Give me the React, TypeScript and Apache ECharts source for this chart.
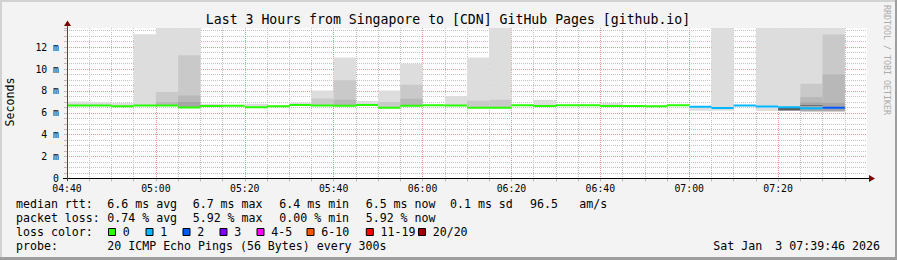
import React, { useEffect, useRef } from "react";
import * as echarts from "echarts";

// ---- data ----
const slotStarts = [
  "04:40", "04:45", "04:50", "04:55", "05:00", "05:05", "05:10", "05:15", "05:20", "05:25",
  "05:30", "05:35", "05:40", "05:45", "05:50", "05:55", "06:00", "06:05", "06:10", "06:15",
  "06:20", "06:25", "06:30", "06:35", "06:40", "06:45", "06:50", "06:55", "07:00", "07:05",
  "07:10", "07:15", "07:20", "07:25", "07:30",
];
// median rtt (ms)
const medianRtt = [
  6.67, 6.67, 6.6, 6.67, 6.67, 6.49, 6.62, 6.65, 6.51, 6.6,
  6.72, 6.68, 6.65, 6.72, 6.46, 6.65, 6.7, 6.68, 6.46, 6.46,
  6.7, 6.62, 6.7, 6.7, 6.62, 6.62, 6.6, 6.7, 6.56, 6.44,
  6.66, 6.58, 6.52, 6.42, 6.46,
];
// lost pings out of 20
const lostPings = [
  0, 0, 0, 0, 0, 0, 0, 0, 0, 0,
  0, 0, 0, 0, 0, 0, 0, 0, 0, 0,
  0, 0, 0, 0, 0, 0, 0, 0, 1, 1,
  1, 1, 1, 1, 2,
];
// smoke bounds (ms); null = none / same as median
const smokeLow: (number | null)[] = [
  null, null, null, null, null, null, null, null, null, null,
  null, null, null, null, null, null, null, null, null, null,
  null, null, null, null, null, null, null, null, 6.2, 6.2,
  null, 6.17, 6.2, 6.15, 6.15,
];
const smokeHigh: (number | null)[] = [
  7.04, 6.98, 6.89, 13.18, 13.75, 13.75, 6.83, null, 6.83, null,
  6.95, 8.05, 11.05, 7.07, 8.05, 10.49, null, 7.53, 11.05, 13.75,
  null, 7.19, null, null, 6.89, null, null, null, 6.62, 13.75,
  null, 13.75, 13.75, 13.75, 13.75,
];
const smokeMid: (number | null)[] = [
  null, null, null, null, 7.9, 11.25, null, null, null, null,
  null, 7.31, 8.97, null, 6.98, 8.57, null, null, 7.1, 7.19,
  null, null, null, null, null, null, null, null, null, null,
  null, null, null, 8.66, 13.15,
];
const smokeInner: (number | null)[] = [
  null, null, null, null, 7.0, 7.59, null, null, null, null,
  null, null, 7.2, null, null, 7.29, null, null, null, null,
  null, null, null, null, null, null, null, null, null, null,
  null, null, null, 7.44, 9.5,
];
const smokeCore: (number | null)[] = [
  null, null, null, null, null, 6.98, null, null, null, null,
  null, null, null, null, null, null, null, null, null, null,
  null, null, null, null, null, null, null, null, null, null,
  null, null, null, 6.95, 6.9,
];
// darkest band near the median [low, high]
const deepBand: ([number, number] | null)[] = [
  null, null, null, null, null, null, null, null, null, null,
  null, null, null, null, null, null, null, null, null, null,
  null, null, null, null, null, null, null, null, null, null,
  null, null, [6.22, 6.46], [6.63, 6.7], null,
];

const xTickLabels = ["04:40", "05:00", "05:20", "05:40", "06:00", "06:20", "06:40", "07:00", "07:20"];
const yTickLabels = ["0", "2 m", "4 m", "6 m", "8 m", "10 m", "12 m"];

const lossLabels = ["0", "1", "2", "3", "4-5", "6-10", "11-19", "20/20"];
const lossColors = ["#26ff00", "#00b8ff", "#0059ff", "#7e00ff", "#ff00ff", "#ff5500", "#ff0000", "#a10000"];

const statsRtt = ["6.6 ms avg", "6.7 ms max", "6.4 ms min", "6.5 ms now", "0.1 ms sd", "96.5", "am/s"];
const statsLoss = ["0.74 % avg", "5.92 % max", "0.00 % min", "5.92 % now"];
const probeText = "20 ICMP Echo Pings (56 Bytes) every 300s";
const titleText = "Last 3 Hours from Singapore to [CDN] GitHub Pages [github.io]";
const dateText = ["Sat Jan", "3 07:39:46 2026"];

// ---- styles / layout ----
const MONO = "'DejaVu Sans Mono', monospace";
const STEP = 5;
const Y_MAX = 13.75;
const smokeShades = ["#dddddd", "#c9c9c9", "#b8b8b8", "#a6a6a6", "#5c5c5c"];
const MAJOR = "#e49494";
const MINOR = "#c2c2c2";

const toMin = (s: string) => {
  const [h, m] = s.split(":").map(Number);
  return h * 60 + m - (4 * 60 + 40);
};

function lossBucket(n: number) {
  if (n <= 3) return n;
  if (n <= 5) return 4;
  if (n <= 10) return 5;
  if (n <= 19) return 6;
  return 7;
}

function buildSmoke() {
  const items: number[][] = [];
  const layers: [(number | null)[], number][] = [
    [smokeHigh, 0],
    [smokeMid, 1],
    [smokeInner, 2],
    [smokeCore, 3],
  ];
  for (const [arr, shade] of layers) {
    slotStarts.forEach((s, i) => {
      const hi = arr[i];
      if (hi == null) return;
      const t0 = toMin(s);
      const lo = smokeLow[i] ?? medianRtt[i];
      items.push([t0, t0 + STEP, Math.min(lo, hi), hi, shade]);
    });
  }
  slotStarts.forEach((s, i) => {
    const b = deepBand[i];
    if (!b) return;
    const t0 = toMin(s);
    items.push([t0, t0 + STEP, b[0], b[1], 4]);
  });
  return items;
}

function buildMedian() {
  return slotStarts.map((s, i) => {
    const t0 = toMin(s);
    return [t0, t0 + STEP, medianRtt[i], lossBucket(lostPings[i])];
  });
}

function renderRect(_p: any, api: any) {
  const a = api.coord([api.value(0), api.value(3)]);
  const b = api.coord([api.value(1), api.value(2)]);
  return {
    type: "rect",
    shape: { x: a[0], y: a[1], width: b[0] - a[0], height: b[1] - a[1] },
    style: { fill: smokeShades[api.value(4)] },
  };
}

function renderMedian(_p: any, api: any) {
  const a = api.coord([api.value(0), api.value(2)]);
  const b = api.coord([api.value(1), api.value(2)]);
  return {
    type: "rect",
    shape: { x: a[0], y: a[1] - 1, width: b[0] - a[0], height: 2 },
    style: { fill: lossColors[api.value(3)] },
  };
}

function txt(text: string, x: number, y: number, opts: any = {}) {
  return {
    type: "text",
    x,
    y,
    z: 100,
    rotation: opts.rotation ?? 0,
    style: {
      text,
      fill: opts.fill ?? "#000",
      fontFamily: MONO,
      fontSize: opts.fontSize ?? 11.6,
      textAlign: opts.align ?? "left",
      align: opts.align ?? "left",
      textVerticalAlign: "middle",
      verticalAlign: "middle",
    },
  };
}

function buildGraphic() {
  const els: any[] = [];
  // outer frame
  els.push({ type: "rect", z: 100, shape: { x: 0, y: 0, width: 897, height: 2 }, style: { fill: "#d2d2d2" } });
  els.push({ type: "rect", z: 100, shape: { x: 0, y: 0, width: 2, height: 260 }, style: { fill: "#d2d2d2" } });
  els.push({ type: "rect", z: 100, shape: { x: 0, y: 257, width: 897, height: 3 }, style: { fill: "#9e9e9e" } });
  els.push({ type: "rect", z: 100, shape: { x: 895, y: 0, width: 2, height: 260 }, style: { fill: "#9e9e9e" } });
  // axes
  els.push({ type: "line", z: 100, shape: { x1: 63, y1: 178.5, x2: 870, y2: 178.5 }, style: { stroke: "#000", lineWidth: 1 } });
  els.push({ type: "line", z: 100, shape: { x1: 67.5, y1: 181, x2: 67.5, y2: 25 }, style: { stroke: "#7a3030", lineWidth: 1 } });
  els.push({ type: "polygon", z: 101, shape: { points: [[64, 26], [71, 26], [67.5, 20.5]] }, style: { fill: "#7f0000" } });
  els.push({ type: "polygon", z: 101, shape: { points: [[869, 175], [869, 182], [875, 178.5]] }, style: { fill: "#7f0000" } });
  // title & side labels
  els.push(txt(titleText, 448, 19.5, { align: "center", fontSize: 13.2 }));
  els.push(txt("Seconds", 10, 102, { align: "center", rotation: Math.PI / 2 }));
  els.push(txt("RRDTOOL / TOBI OETIKER", 887, 60, { align: "center", rotation: -Math.PI / 2, fontSize: 8.3, fill: "#ababab" }));
  // legend rows
  const colX = [107.3, 192.7, 279.3, 365.7, 450, 530, 579.3];
  const r1 = 204.3, r2 = 218.3, r3 = 232, r4 = 246;
  els.push(txt("median rtt:", 16, r1));
  statsRtt.forEach((s, i) => els.push(txt(s, colX[i], r1)));
  els.push(txt("packet loss:", 16, r2));
  statsLoss.forEach((s, i) => els.push(txt(s, colX[i], r2)));
  els.push(txt("loss color:", 16, r3));
  const boxX = [108.5, 146, 183, 220, 257, 307, 366.3, 418.5];
  lossLabels.forEach((l, i) => {
    els.push({
      type: "rect",
      z: 100,
      shape: { x: boxX[i], y: 228.5, width: 7, height: 7 },
      style: { fill: lossColors[i], stroke: "#000", lineWidth: 1 },
    });
    els.push(txt(l, boxX[i] + 14.2, r3));
  });
  els.push(txt("probe:", 16, r4));
  els.push(txt(probeText, 107.3, r4));
  els.push(txt(dateText[0], 713.3, r4));
  els.push(txt(dateText[1], 880, r4, { align: "right" }));
  return els;
}

export default function App() {
  const ref = useRef<HTMLDivElement>(null);
  useEffect(() => {
    document.body.style.margin = "0";
    const chart = echarts.init(ref.current!, null, { renderer: "svg" });
    const option: any = {
      animation: false,
      backgroundColor: "#f3f3f3",
      grid: {
        left: 67,
        top: 28,
        width: 800,
        height: 150.5,
        show: true,
        backgroundColor: "#ffffff",
        borderWidth: 0,
        containLabel: false,
        outerBoundsMode: "none",
      },
      xAxis: {
        type: "value",
        min: 0,
        max: 180,
        interval: 5,
        axisLine: { show: false },
        axisTick: { show: true, length: 3, lineStyle: { color: "#bdbdbd" } },
        axisLabel: {
          margin: 5,
          fontFamily: MONO,
          fontSize: 9.8,
          color: "#000",
          showMaxLabel: false,
          formatter: (v: number) => (v % 20 === 0 && v / 20 < xTickLabels.length ? xTickLabels[v / 20] : ""),
        },
        splitLine: {
          show: true,
          showMaxLine: false,
          lineStyle: { color: [MAJOR, MINOR, MINOR, MINOR], type: [1, 1], width: 1 },
        },
      },
      yAxis: {
        type: "value",
        min: 0,
        max: Y_MAX,
        interval: 0.5,
        axisLine: { show: false },
        axisTick: { show: true, length: 3, lineStyle: { color: "#bdbdbd" } },
        axisLabel: {
          margin: 8,
          fontFamily: MONO,
          fontSize: 9.8,
          color: "#000",
          formatter: (v: number) => {
            const k = v / 2;
            return Number.isInteger(k) && k < yTickLabels.length ? yTickLabels[k] : "";
          },
        },
        splitLine: {
          show: true,
          showMaxLine: false,
          lineStyle: { color: [MAJOR, MINOR, MINOR, MINOR], type: [1, 1], width: 1 },
        },
      },
      series: [
        {
          type: "custom",
          renderItem: renderRect,
          data: buildSmoke(),
          encode: { x: [0, 1], y: [2, 3] },
          clip: true,
          silent: true,
          z: 2,
        },
        {
          type: "custom",
          renderItem: renderMedian,
          data: buildMedian(),
          encode: { x: [0, 1], y: 2 },
          clip: true,
          silent: true,
          z: 3,
        },
      ],
      graphic: { elements: buildGraphic() },
    };
    chart.setOption(option);
    return () => chart.dispose();
  }, []);
  return <div ref={ref} style={{ width: 897, height: 260, background: "#f3f3f3" }} />;
}
